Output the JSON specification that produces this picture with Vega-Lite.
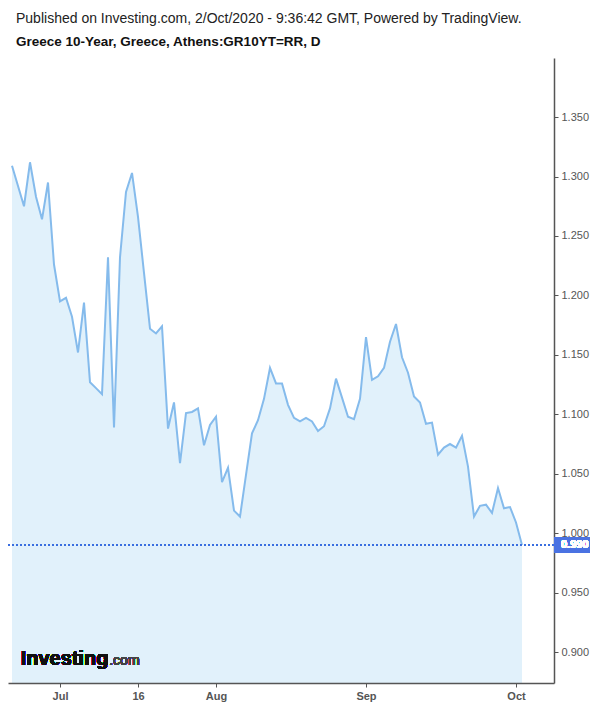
{
  "$schema": "https://vega.github.io/schema/vega-lite/v6.json",
  "width": 546,
  "height": 625,
  "autosize": "none",
  "padding": {"left": 8, "top": 58, "right": 46, "bottom": 25},
  "background": "white",
  "config": {
    "font": "Liberation Sans",
    "view": {"stroke": null}
  },
  "title": {
    "text": "Published on Investing.com, 2/Oct/2020 - 9:36:42 GMT, Powered by TradingView.",
    "subtitle": "Greece 10-Year, Greece, Athens:GR10YT=RR, D",
    "anchor": "start",
    "frame": "group",
    "dx": 8,
    "offset": 10,
    "font": "Liberation Sans",
    "fontSize": 14,
    "fontWeight": "normal",
    "color": "#222222",
    "subtitleFont": "Liberation Sans",
    "subtitleFontSize": 13.5,
    "subtitleFontWeight": "bold",
    "subtitleColor": "#111111",
    "subtitlePadding": 9
  },
  "data": {
    "values": [
      {"bar": 0, "yield": 1.309}, {"bar": 1, "yield": 1.292}, {"bar": 2, "yield": 1.275},
      {"bar": 3, "yield": 1.312}, {"bar": 4, "yield": 1.283}, {"bar": 5, "yield": 1.264},
      {"bar": 6, "yield": 1.295}, {"bar": 7, "yield": 1.226}, {"bar": 8, "yield": 1.195},
      {"bar": 9, "yield": 1.198}, {"bar": 10, "yield": 1.182}, {"bar": 11, "yield": 1.152},
      {"bar": 12, "yield": 1.194}, {"bar": 13, "yield": 1.127}, {"bar": 14, "yield": 1.122},
      {"bar": 15, "yield": 1.117}, {"bar": 16, "yield": 1.232}, {"bar": 17, "yield": 1.089},
      {"bar": 18, "yield": 1.232}, {"bar": 19, "yield": 1.287}, {"bar": 20, "yield": 1.303},
      {"bar": 21, "yield": 1.266}, {"bar": 22, "yield": 1.219}, {"bar": 23, "yield": 1.172},
      {"bar": 24, "yield": 1.168}, {"bar": 25, "yield": 1.174}, {"bar": 26, "yield": 1.088},
      {"bar": 27, "yield": 1.110}, {"bar": 28, "yield": 1.059}, {"bar": 29, "yield": 1.101},
      {"bar": 30, "yield": 1.102}, {"bar": 31, "yield": 1.105}, {"bar": 32, "yield": 1.074},
      {"bar": 33, "yield": 1.091}, {"bar": 34, "yield": 1.098}, {"bar": 35, "yield": 1.043},
      {"bar": 36, "yield": 1.055}, {"bar": 37, "yield": 1.019}, {"bar": 38, "yield": 1.014},
      {"bar": 39, "yield": 1.049}, {"bar": 40, "yield": 1.084}, {"bar": 41, "yield": 1.095},
      {"bar": 42, "yield": 1.113}, {"bar": 43, "yield": 1.139}, {"bar": 44, "yield": 1.126},
      {"bar": 45, "yield": 1.126}, {"bar": 46, "yield": 1.108}, {"bar": 47, "yield": 1.097},
      {"bar": 48, "yield": 1.094}, {"bar": 49, "yield": 1.097}, {"bar": 50, "yield": 1.094},
      {"bar": 51, "yield": 1.086}, {"bar": 52, "yield": 1.090}, {"bar": 53, "yield": 1.105},
      {"bar": 54, "yield": 1.130}, {"bar": 55, "yield": 1.114}, {"bar": 56, "yield": 1.098},
      {"bar": 57, "yield": 1.096}, {"bar": 58, "yield": 1.113}, {"bar": 59, "yield": 1.165},
      {"bar": 60, "yield": 1.129}, {"bar": 61, "yield": 1.132}, {"bar": 62, "yield": 1.139},
      {"bar": 63, "yield": 1.161}, {"bar": 64, "yield": 1.176}, {"bar": 65, "yield": 1.148},
      {"bar": 66, "yield": 1.135}, {"bar": 67, "yield": 1.115}, {"bar": 68, "yield": 1.110},
      {"bar": 69, "yield": 1.092}, {"bar": 70, "yield": 1.093}, {"bar": 71, "yield": 1.066},
      {"bar": 72, "yield": 1.072}, {"bar": 73, "yield": 1.075}, {"bar": 74, "yield": 1.072},
      {"bar": 75, "yield": 1.082}, {"bar": 76, "yield": 1.056}, {"bar": 77, "yield": 1.014},
      {"bar": 78, "yield": 1.023}, {"bar": 79, "yield": 1.024}, {"bar": 80, "yield": 1.017},
      {"bar": 81, "yield": 1.038}, {"bar": 82, "yield": 1.021}, {"bar": 83, "yield": 1.022},
      {"bar": 84, "yield": 1.009}, {"bar": 85, "yield": 0.990}
    ]
  },
  "encoding": {
    "x": {
      "field": "bar",
      "type": "quantitative",
      "scale": {"domain": [-0.667, 90.333], "nice": false, "zero": false},
      "axis": {
        "title": null,
        "values": [8, 21, 34, 59, 84],
        "labelExpr": "datum.value == 8 ? 'Jul' : datum.value == 21 ? '16' : datum.value == 34 ? 'Aug' : datum.value == 59 ? 'Sep' : 'Oct'",
        "grid": false,
        "domainColor": "#555555",
        "domainWidth": 1.5,
        "tickColor": "#555555",
        "tickSize": 4,
        "labelColor": "#555555",
        "labelFontSize": 11,
        "labelFont": "Liberation Sans",
        "labelFontWeight": "bold",
        "labelPadding": 3,
        "zindex": 1
      }
    },
    "y": {
      "field": "yield",
      "type": "quantitative",
      "scale": {"domain": [0.874, 1.3997], "nice": false, "zero": false},
      "axis": {
        "title": null,
        "orient": "right",
        "values": [0.9, 0.95, 1.0, 1.05, 1.1, 1.15, 1.2, 1.25, 1.3, 1.35],
        "format": ".3f",
        "grid": false,
        "domainColor": "#555555",
        "domainWidth": 1.5,
        "tickColor": "#555555",
        "tickSize": 4,
        "labelColor": "#555555",
        "labelFontSize": 11,
        "labelFont": "Liberation Sans",
        "labelPadding": 3,
        "zindex": 0
      }
    }
  },
  "layer": [
    {
      "mark": {"type": "area", "color": "#e1f1fb", "opacity": 1},
      "encoding": {
        "y2": {"datum": 0.874}
      }
    },
    {
      "mark": {"type": "line", "color": "#85bbec", "strokeWidth": 2}
    },
    {
      "mark": {"type": "rule", "color": "#3a6ee0", "strokeWidth": 1, "strokeDash": [2, 2]},
      "encoding": {
        "x": {"datum": -0.667},
        "x2": {"datum": 90.333},
        "y": {"datum": 0.990}
      }
    },
    {
      "mark": {"type": "rect", "color": "#4a72e2", "clip": false},
      "encoding": {
        "x": {"datum": 90.333},
        "x2": {"datum": 96.2},
        "y": {"datum": 0.9968},
        "y2": {"datum": 0.9838}
      }
    },
    {
      "mark": {"type": "text", "color": "white", "fontSize": 11, "fontWeight": "bold", "font": "Liberation Sans", "align": "left", "baseline": "middle", "clip": false},
      "encoding": {
        "x": {"datum": 91.5},
        "y": {"datum": 0.9903},
        "text": {"value": "0.990"}
      }
    },
    {
      "mark": {"type": "text", "color": "#111111", "fontSize": 20, "fontWeight": "bold", "font": "Liberation Sans", "align": "left", "baseline": "alphabetic", "letterSpacing": -0.4},
      "encoding": {
        "x": {"datum": 1.45},
        "y": {"datum": 0.889},
        "text": {"value": "Investing"}
      }
    },
    {
      "mark": {"type": "text", "color": "#444444", "fontSize": 14, "font": "Liberation Sans", "align": "left", "baseline": "alphabetic"},
      "encoding": {
        "x": {"datum": 16.2},
        "y": {"datum": 0.889},
        "text": {"value": ".com"}
      }
    }
  ]
}
